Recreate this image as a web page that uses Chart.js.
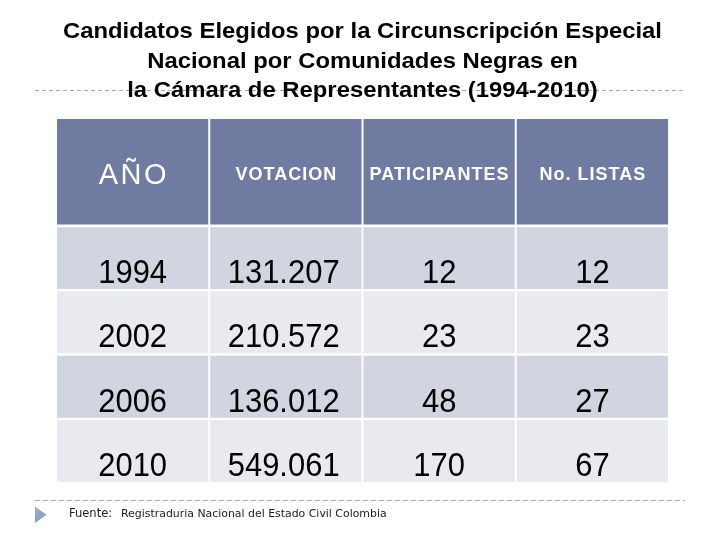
<!DOCTYPE html>
<html>
<head>
<meta charset="utf-8">
<script src="https://cdn.jsdelivr.net/npm/chart.js@4/dist/chart.umd.min.js"></script>
<style>
html,body{margin:0;padding:0;background:#fff;}
#wrap{width:720px;height:540px;}
</style>
</head>
<body>
<div id="wrap"><canvas id="c" width="720" height="540"></canvas></div>
<script>
// ---- data ----
const titleLines = [
  'Candidatos Elegidos por la Circunscripción Especial',
  'Nacional por Comunidades Negras en',
  'la Cámara de Representantes (1994-2010)'
];
const columns = ['AÑO', 'VOTACION', 'PATICIPANTES', 'No. LISTAS'];
const years = ['1994', '2002', '2006', '2010'];
const votacion = ['131.207', '210.572', '136.012', '549.061'];
const participantes = [12, 23, 48, 170];
const listas = [12, 23, 27, 67];
const sourceLabel = 'Fuente:';
const sourceText = 'Registraduria Nacional del Estado Civil Colombia';

// ---- layout constants ----
const HEADER_H = 1.68;   // header row height in row units
const GAP = 0.04;        // white gap between rows in row units
const HEADER_COLOR = '#6F7BA1';
const ROW_COLORS = ['#D1D5DF', '#E9EAEF', '#D1D5DF', '#E9EAEF'];

const rowsText = years.map((y, i) => [y, votacion[i], participantes[i], listas[i]]);

const datasets = [{
  label: 'header',
  data: columns.map(() => [0, HEADER_H - GAP]),
  backgroundColor: HEADER_COLOR,
  cellText: columns,
  isHeader: true
}].concat(rowsText.map((row, i) => ({
  label: years[i],
  data: columns.map(() => [HEADER_H + i, HEADER_H + i + 1 - GAP]),
  backgroundColor: ROW_COLORS[i],
  cellText: row,
  isHeader: false
})));

const FONT = '"Liberation Sans", Arial, sans-serif';

const tablePlugin = {
  id: 'tableText',
  afterDatasetsDraw(chart) {
    const ctx = chart.ctx;
    chart.data.datasets.forEach((ds, di) => {
      const meta = chart.getDatasetMeta(di);
      meta.data.forEach((el, ci) => {
        const top = Math.min(el.y, el.base);
        const bottom = Math.max(el.y, el.base);
        const left = el.x - el.width / 2;
        const cx = el.x;
        const mid = (top + bottom) / 2;
        const txt = String(ds.cellText[ci]);
        ctx.save();
        if (ds.isHeader) {
          ctx.fillStyle = '#FFFFFF';
          ctx.textBaseline = 'alphabetic';
          ctx.textAlign = 'left';
          let ls, base;
          if (ci === 0) {
            ctx.font = 'normal 29px ' + FONT;
            ls = 2.5; base = mid + 11.8;
          } else {
            ctx.font = 'bold 18px ' + FONT;
            ls = 1; base = mid + 8.3;
          }
          try { ctx.letterSpacing = ls + 'px'; } catch (e) {}
          const w = ctx.measureText(txt).width - ls;
          ctx.fillText(txt, cx - w / 2, base);
        } else {
          ctx.fillStyle = '#000000';
          ctx.font = 'normal 34px ' + FONT;
          ctx.textBaseline = 'alphabetic';
          const base = bottom - 6;
          const sx = 0.91;
          if (ci === 1) {
            ctx.translate(left + 17.5, base);
            ctx.scale(sx, 1);
            ctx.textAlign = 'left';
          } else {
            ctx.translate(cx, base);
            ctx.scale(sx, 1);
            ctx.textAlign = 'center';
          }
          ctx.fillText(txt, 0, 0);
        }
        ctx.restore();
      });
    });
  }
};

const decorPlugin = {
  id: 'decor',
  afterDraw(chart) {
    const ctx = chart.ctx;
    ctx.save();
    // dashed separators
    ctx.strokeStyle = '#A8A8A8';
    ctx.lineWidth = 1;
    ctx.setLineDash([4, 3]);
    ctx.beginPath();
    ctx.moveTo(35, 90.5); ctx.lineTo(685, 90.5);
    ctx.stroke();
    ctx.setLineDash([5, 3]);
    ctx.beginPath();
    ctx.moveTo(35, 500.5); ctx.lineTo(685, 500.5);
    ctx.stroke();
    ctx.setLineDash([]);

    // title
    ctx.fillStyle = '#000000';
    ctx.font = 'bold 21.5px ' + FONT;
    ctx.textBaseline = 'alphabetic';
    ctx.textAlign = 'center';
    const sx = 599 / ctx.measureText(titleLines[0]).width;
    const baselines = [38.2, 67.6, 97.3];
    titleLines.forEach((line, i) => {
      ctx.save();
      ctx.translate(362.5, baselines[i]);
      ctx.scale(sx, 1);
      ctx.fillText(line, 0, 0);
      ctx.restore();
    });

    // bullet triangle
    const g = ctx.createLinearGradient(35, 506, 46, 523);
    g.addColorStop(0, '#9FB2CE');
    g.addColorStop(1, '#8299BB');
    ctx.fillStyle = g;
    ctx.beginPath();
    ctx.moveTo(35, 506.5);
    ctx.lineTo(46.5, 514.8);
    ctx.lineTo(35, 523);
    ctx.closePath();
    ctx.fill();

    // source
    ctx.fillStyle = '#1A1A1A';
    ctx.textAlign = 'left';
    ctx.font = '11.5px "DejaVu Sans", Verdana, sans-serif';
    ctx.fillText(sourceLabel, 69, 516.5);
    ctx.font = '10px "DejaVu Sans", Verdana, sans-serif';
    const w = ctx.measureText(sourceText).width;
    const fs = 10 * 266 / w;
    ctx.font = fs.toFixed(2) + 'px "DejaVu Sans", Verdana, sans-serif';
    ctx.fillText(sourceText, 121, 516.5);
    ctx.restore();
  }
};

new Chart(document.getElementById('c'), {
  type: 'bar',
  data: { labels: columns, datasets: datasets },
  options: {
    responsive: false,
    animation: false,
    events: [],
    layout: { padding: { left: 56, right: 51, top: 119, bottom: 58 } },
    datasets: { bar: { grouped: false, categoryPercentage: 1, barPercentage: 0.987, borderWidth: 0 } },
    scales: {
      x: { type: 'category', display: false, offset: true },
      y: { type: 'linear', display: false, reverse: true, min: 0, max: HEADER_H + years.length - GAP }
    },
    plugins: { legend: { display: false }, tooltip: { enabled: false }, title: { display: false } }
  },
  plugins: [tablePlugin, decorPlugin]
});
</script>
</body>
</html>
